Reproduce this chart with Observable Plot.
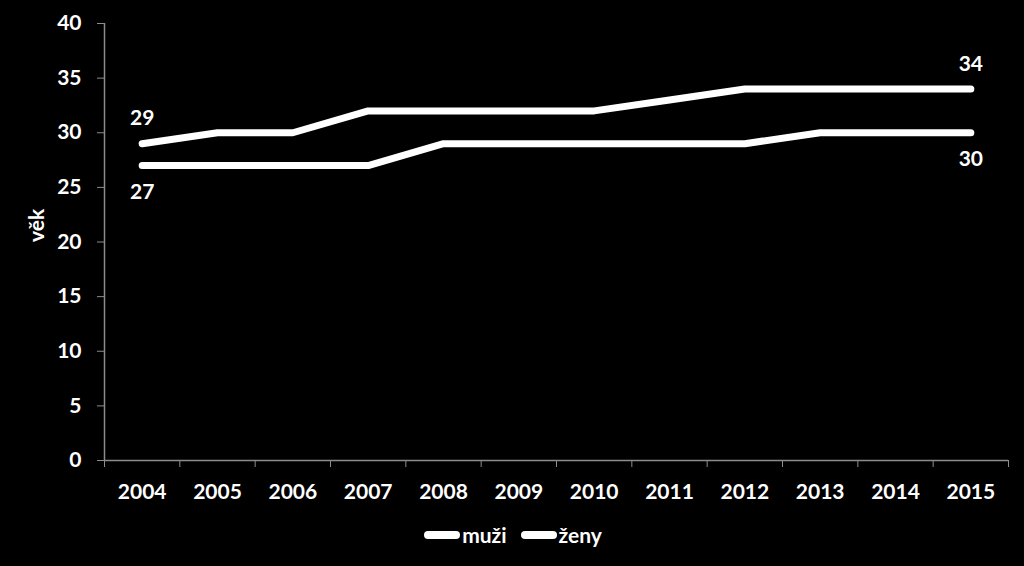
<!DOCTYPE html>
<html>
<head>
<meta charset="utf-8">
<script src="https://cdn.jsdelivr.net/npm/d3@7"></script>
<script src="https://cdn.jsdelivr.net/npm/@observablehq/plot@0.6"></script>
<style>
  html, body { margin: 0; padding: 0; background: #000; }
  body { width: 1024px; height: 566px; overflow: hidden; font-family: Lato, "Open Sans", sans-serif; color: #fff; }
  #legend { display: flex; justify-content: center; align-items: center; gap: 14px; font-weight: bold; font-size: 21px; margin-top: 10px; padding-left: 2px; }
  .item { display: flex; align-items: center; }
  .sw { display: inline-block; width: 36px; height: 8px; border-radius: 4px; background: #fff; margin-right: 2px; }
</style>
</head>
<body>
<div id="chart"></div>
<div id="legend"></div>
<script>
const years = [2004, 2005, 2006, 2007, 2008, 2009, 2010, 2011, 2012, 2013, 2014, 2015];
const muzi = [29, 30, 30, 32, 32, 32, 32, 33, 34, 34, 34, 34];
const zeny = [27, 27, 27, 27, 29, 29, 29, 29, 29, 30, 30, 30];
const seriesNames = ["muži", "ženy"];
const yTicks = [0, 5, 10, 15, 20, 25, 30, 35, 40];
const yLabel = "věk";

const data = [
  ...years.map((y, i) => ({year: y, value: muzi[i], s: seriesNames[0]})),
  ...years.map((y, i) => ({year: y, value: zeny[i], s: seriesNames[1]}))
];
const n = years.length;
const boundaries = [...years.map(y => y - 0.5), years[n - 1] + 0.5];
const labelsAbove = [
  {year: years[0], value: muzi[0]},
  {year: years[n - 1], value: muzi[n - 1]}
];
const labelsBelow = [
  {year: years[0], value: zeny[0]},
  {year: years[n - 1], value: zeny[n - 1]}
];

const axisColor = "#8c8c8c";
const chart = Plot.plot({
  width: 1024,
  height: 512,
  marginTop: 23,
  marginBottom: 52,
  marginLeft: 104,
  marginRight: 16,
  style: {background: "#000", color: "#fff", fontFamily: "Lato, 'Open Sans', sans-serif", fontWeight: "bold", fontSize: "21px"},
  x: {domain: [boundaries[0], boundaries[n]]},
  y: {domain: [0, 40]},
  marks: [
    Plot.axisY({ticks: yTicks, tickSize: 7, tickPadding: 16, stroke: axisColor, fill: "#fff", fontSize: 21, fontWeight: "bold", label: null}),
    Plot.text([yLabel], {frameAnchor: "left", dx: -67, rotate: -90, fontSize: 21, fontWeight: "bold", fill: "#fff"}),
    Plot.axisX({ticks: boundaries, tickSize: 7, tickFormat: () => "", stroke: axisColor, label: null}),
    Plot.axisX({ticks: years, tickSize: 0, tickPadding: 24, tickFormat: d => String(d), fill: "#fff", fontSize: 21, fontWeight: "bold", label: null}),
    Plot.ruleY([0], {stroke: axisColor, strokeWidth: 1.5}),
    Plot.ruleX([boundaries[0]], {stroke: axisColor, strokeWidth: 1.5}),
    Plot.line(data, {x: "year", y: "value", z: "s", stroke: "#fff", strokeWidth: 7, strokeLinecap: "round", strokeLinejoin: "round"}),
    Plot.text(labelsAbove, {x: "year", y: "value", text: d => String(d.value), dy: -25, fill: "#fff", fontSize: 21, fontWeight: "bold"}),
    Plot.text(labelsBelow, {x: "year", y: "value", text: d => String(d.value), dy: 27, fill: "#fff", fontSize: 21, fontWeight: "bold"})
  ]
});
document.getElementById("chart").appendChild(chart);

const legend = document.getElementById("legend");
seriesNames.forEach(name => {
  const item = document.createElement("div");
  item.className = "item";
  const sw = document.createElement("span");
  sw.className = "sw";
  const t = document.createElement("span");
  t.textContent = name;
  item.appendChild(sw);
  item.appendChild(t);
  legend.appendChild(item);
});
</script>
</body>
</html>
